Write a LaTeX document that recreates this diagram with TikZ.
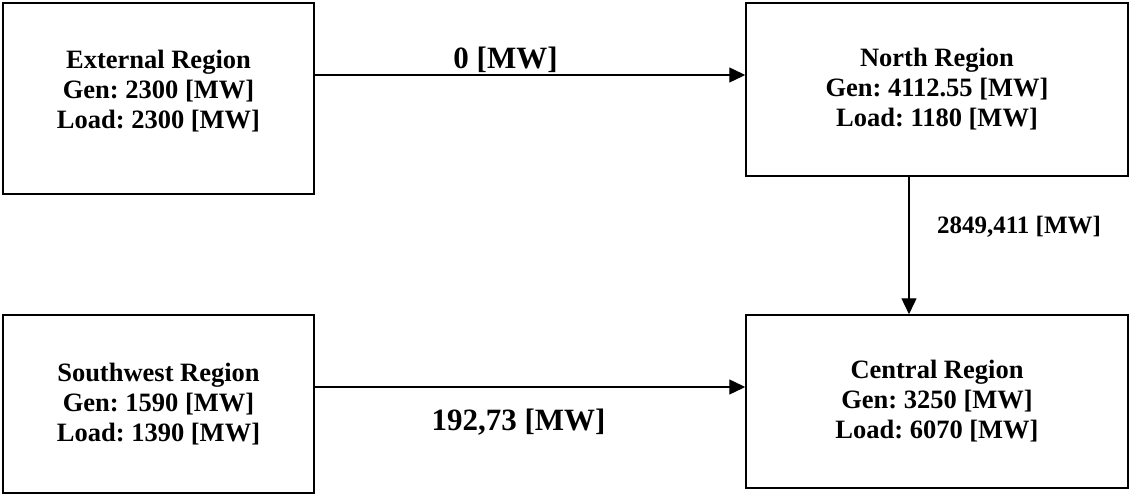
\documentclass[tikz,border=0pt]{standalone}
\usepackage{fontspec}
\setmainfont{Liberation Serif}
\usetikzlibrary{arrows.meta}
\frenchspacing

\begin{document}
\begin{tikzpicture}[x=1pt, y=-1pt,
  regbox/.style={draw=black, line width=1.5pt, rectangle, inner sep=0pt},
  regtext/.style={align=center, inner sep=0pt,
    font=\fontsize{26.5}{30}\selectfont\bfseries},
  flow/.style={line width=1.4pt, -{Triangle[length=16pt,width=15pt]}},
  flowlabel/.style={inner sep=0pt, anchor=base, font=\bfseries}
]
\useasboundingbox (0,0) rectangle (1131,494);

% region boxes
\node[regbox, minimum width=311pt, minimum height=191pt] (ext) at (158.5,98.5) {};
\node[regtext] (extText) at (158.5,90.7)
  {External Region\\Gen: 2300 [MW]\\Load: 2300 [MW]};

\node[regbox, regtext, minimum width=382pt, minimum height=173pt] (north) at (937,89.5)
  {North Region\\Gen: 4112.55 [MW]\\Load: 1180 [MW]};

\node[regbox, regtext, minimum width=311pt, minimum height=178pt] (sw) at (158.5,404)
  {Southwest Region\\Gen: 1590 [MW]\\Load: 1390 [MW]};

\node[regbox, regtext, minimum width=382pt, minimum height=173pt] (central) at (937,401.5)
  {Central Region\\Gen: 3250 [MW]\\Load: 6070 [MW]};

% connector levels
\coordinate (topflow) at (0,75);
\coordinate (downflow) at (909,0);
\coordinate (botflow) at (0,387);

% power flows between regions
\draw[flow] (ext.east |- topflow) -- (north.west |- topflow);
\draw[flow] (north.south -| downflow) -- (central.north -| downflow);
\draw[flow] (sw.east |- botflow) -- (central.west |- botflow);

% flow values
\node[flowlabel, font=\fontsize{31}{36}\selectfont\bfseries] (lblTop) at (505.5,68.5) {0 [MW]};
\node[flowlabel, font=\fontsize{25}{30}\selectfont\bfseries] (lblDown) at (1019,233.5) {2849,411 [MW]};
\node[flowlabel, font=\fontsize{31}{36}\selectfont\bfseries] (lblBot) at (518.5,430) {192,73 [MW]};
\end{tikzpicture}
\end{document}
